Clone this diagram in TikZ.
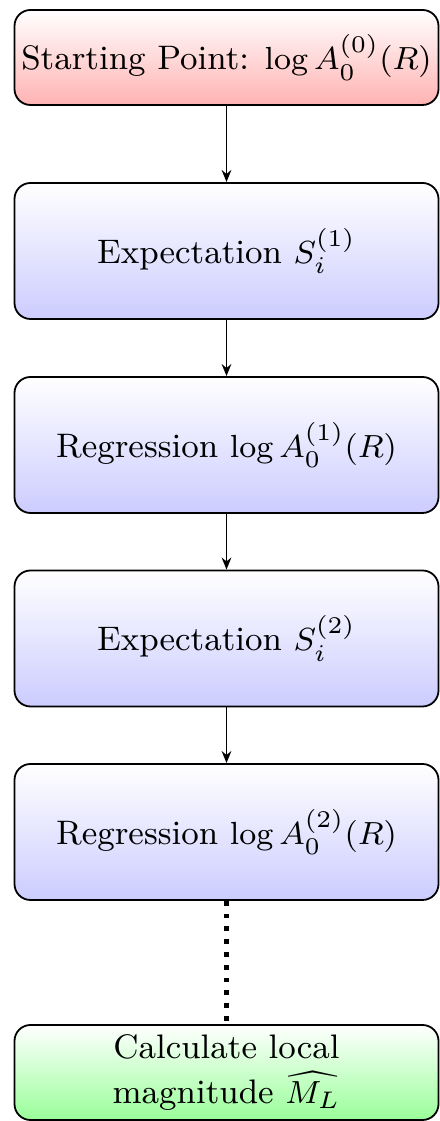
\documentclass[tikz,border=0pt]{standalone}
\usepackage{amsmath}
\usepackage{tikz}
\usetikzlibrary{
  arrows.meta,
  positioning
}
\tikzset{
  >={Stealth[length=3pt,width=2.4pt]},
  flow box/.style={rectangle,rounded corners=4pt,draw=black,line width=.45pt,
    minimum width=106pt,inner xsep=1pt,align=center,
    font=\fontsize{8.5}{11.25}\selectfont},
  start box/.style={flow box,top color=white,bottom color=red!30,minimum height=23.75pt},
  step box/.style={flow box,top color=white,bottom color=blue!20,minimum height=34pt},
  end box/.style={flow box,top color=white,bottom color=green!40,minimum height=23.75pt,
    inner ysep=1pt},
  data flow/.style={->,line width=.45pt},
  skip flow/.style={very thick,dotted}
}

\begin{document}
\begin{tikzpicture}[x=.25pt,y=.25pt]
  \useasboundingbox (0,0) rectangle (439,1121);

  \node[start box] (start) at (226.5,1063.5)
    {Starting Point: $\log A_0^{(0)}(R)$};
  \node[step box] (expect1) at (226.5,870)
    {Expectation $S_i^{(1)}$};
  \node[step box] (regress1) at (226.5,676)
    {Regression $\log A_0^{(1)}(R)$};
  \node[step box] (expect2) at (226.5,482.5)
    {Expectation $S_i^{(2)}$};
  \node[step box] (regress2) at (226.5,289)
    {Regression $\log A_0^{(2)}(R)$};
  \node[end box] (magnitude) at (226.5,48.5)
    {Calculate local\\magnitude $\widehat{M_L}$};

  \draw[data flow] (start) -- (expect1);
  \draw[data flow] (expect1) -- (regress1);
  \draw[data flow] (regress1) -- (expect2);
  \draw[data flow] (expect2) -- (regress2);
  \draw[skip flow] (regress2) -- (magnitude);
\end{tikzpicture}
\end{document}
